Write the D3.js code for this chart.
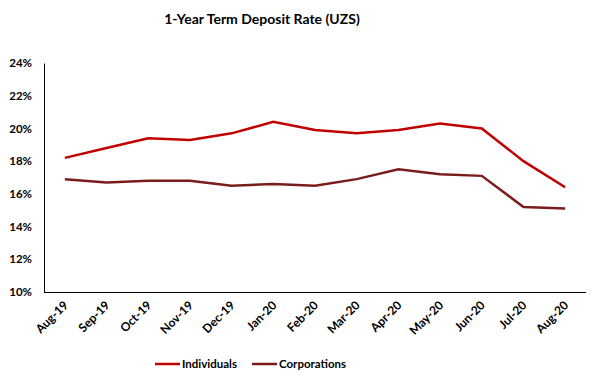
<!DOCTYPE html>
<html><head><meta charset="utf-8">
<script src="https://cdn.jsdelivr.net/npm/d3@7"></script>
<style>body{margin:0;background:#fff}svg{display:block}text{font-family:Lato,"Open Sans",sans-serif;font-weight:bold;fill:#000}</style>
</head><body><svg id="c" width="600" height="384"></svg>
<script>
const months = ["Aug-19","Sep-19","Oct-19","Nov-19","Dec-19","Jan-20","Feb-20","Mar-20","Apr-20","May-20","Jun-20","Jul-20","Aug-20"];
const individuals = [18.2,18.8,19.4,19.3,19.7,20.4,19.9,19.7,19.9,20.3,20.0,18.0,16.4];
const corporations = [16.9,16.7,16.8,16.8,16.5,16.6,16.5,16.9,17.5,17.2,17.1,15.2,15.1];
const yTicks = [10,12,14,16,18,20,22,24];
const seriesNames = ["Individuals","Corporations"];
const colors = ["#C00000","#7B1C1C"];

const svg = d3.select("#c");
const L=44, R=586, T=62, B=292;
const x = d3.scaleBand().domain(months).range([L,R]);
const y = d3.scaleLinear().domain([10,24]).range([B,T+1]);

svg.append("text").attr("x",262).attr("y",24).attr("text-anchor","middle").style("font-size","14px").text("1-Year Term Deposit Rate (UZS)");

// y axis
const ya = svg.append("g").attr("transform",`translate(${L},0)`).call(d3.axisLeft(y).tickValues(yTicks).tickSize(0).tickPadding(12).tickFormat(d=>d+"%"));
ya.select(".domain").attr("stroke","#000");
ya.selectAll("text").style("font-size","11.5px").style("font-family","Lato,sans-serif");

// x axis
const xa = svg.append("g").attr("transform",`translate(0,${B})`).call(d3.axisBottom(x).tickSize(0).tickPadding(0));
xa.select(".domain").attr("stroke","#000").attr("d",`M${L},0.5H${R}`);
xa.selectAll("text").style("font-size","12px").style("font-family","Lato,sans-serif")
  .attr("text-anchor","end").attr("dy",null).attr("y",0)
  .attr("transform","translate(4,14) rotate(-45)");

const line = d3.line().x((d,i)=>x(months[i])+x.bandwidth()/2).y(d=>y(d));
[individuals,corporations].forEach((s,k)=>{
  svg.append("path").datum(s).attr("d",line).attr("fill","none").attr("stroke",colors[k]).attr("stroke-width",2.5);
});

// legend
const lg = [{x:155},{x:252}];
seriesNames.forEach((n,k)=>{
  svg.append("line").attr("x1",lg[k].x).attr("x2",lg[k].x+25).attr("y1",364).attr("y2",364).attr("stroke",colors[k]).attr("stroke-width",2.5);
  svg.append("text").attr("x",lg[k].x+27).attr("y",368).style("font-size","11.5px").text(n);
});
</script></body></html>
